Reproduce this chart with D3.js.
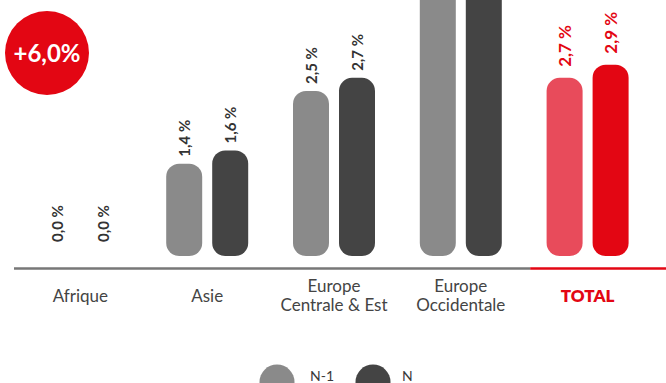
<!DOCTYPE html>
<html>
<head>
<meta charset="utf-8">
<script src="https://cdn.jsdelivr.net/npm/d3@7/dist/d3.min.js"></script>
<style>
  html, body { margin: 0; padding: 0; background: #fff; }
  svg { display: block; }
  text { font-family: Lato, "Open Sans", sans-serif; }
</style>
</head>
<body>
<svg id="chart" width="666" height="383"></svg>
<script>
// Regions (two-line labels split on "|")
const categories = ["Afrique", "Asie", "Europe|Centrale & Est", "Europe|Occidentale", "TOTAL"];
const series = ["N-1", "N"];
const valuesPrev = [0.0, 1.4, 2.5, 4.2, 2.7];   // N-1
const valuesCurr = [0.0, 1.6, 2.7, 4.4, 2.9];   // N
const growthLabel = "+6,0%";

const fmt = v => v.toFixed(1).replace(".", ",") + " %";

const W = 666, H = 383;
const base = 256;
const svg = d3.select("#chart");

const x0 = d3.scaleBand().domain(categories).range([17, 651]).padding(0);
const x1 = d3.scaleBand().domain(series).range([-41, 41]).paddingInner(0.2174).paddingOuter(0);
const y = d3.scaleLinear().domain([0, 3.88]).range([base, 0]);

const colors = {
  normal: { "N-1": "#8a8a8a", "N": "#444444" },
  total:  { "N-1": "#e84b5b", "N": "#e30613" }
};

const rows = categories.map((c, i) => ({
  cat: c,
  total: c === "TOTAL",
  bars: [
    { s: "N-1", v: valuesPrev[i] },
    { s: "N", v: valuesCurr[i] }
  ]
}));

const groups = svg.selectAll("g.cat").data(rows).join("g")
  .attr("class", "cat")
  .attr("transform", d => `translate(${x0(d.cat) + x0.bandwidth() / 2},0)`);

// rounded bars
groups.selectAll("rect.bar")
  .data(d => d.bars.filter(b => b.v > 0).map(b => ({ ...b, total: d.total })))
  .join("rect")
  .attr("class", "bar")
  .attr("x", b => x1(b.s))
  .attr("width", x1.bandwidth())
  .attr("y", b => y(b.v))
  .attr("height", b => base - y(b.v))
  .attr("rx", 13).attr("ry", 13)
  .attr("fill", b => (b.total ? colors.total : colors.normal)[b.s]);

// rotated value labels (only those that land inside the chart area)
const labelBottom = b => Math.min(y(b.v), base - 7) - (b.total ? 11 : 7);
groups.selectAll("text.val")
  .data(d => d.bars.map(b => ({ ...b, total: d.total })).filter(b => labelBottom(b) > 50))
  .join("text")
  .attr("class", "val")
  .attr("transform", b => `translate(${x1(b.s) + x1.bandwidth() / 2},${labelBottom(b)}) rotate(-90)`)
  .attr("text-anchor", "start")
  .attr("dominant-baseline", "central")
  .attr("font-size", b => b.total ? 17 : 15)
  .attr("font-weight", 700)
  .attr("fill", b => b.total ? "#e30613" : "#333333")
  .text(b => fmt(b.v));

// baseline: grey, then red under TOTAL
const totalStart = x0("TOTAL") + 6;
svg.append("line")
  .attr("x1", 14).attr("x2", totalStart)
  .attr("y1", 268.5).attr("y2", 268.5)
  .attr("stroke", "#777777").attr("stroke-width", 2.5);
svg.append("line")
  .attr("x1", totalStart).attr("x2", W)
  .attr("y1", 268.5).attr("y2", 268.5)
  .attr("stroke", "#e30613").attr("stroke-width", 2.5);

// category labels
groups.append("text")
  .attr("text-anchor", "middle")
  .attr("font-size", 17)
  .attr("font-weight", d => d.total ? 800 : 400)
  .attr("fill", d => d.total ? "#e30613" : "#444444")
  .each(function (d) {
    const lines = d.cat.split("|");
    const t = d3.select(this);
    const y0 = lines.length === 1 ? 302 : 292;
    lines.forEach((l, k) => {
      t.append("tspan").attr("x", 0).attr("y", y0 + k * 19).text(l);
    });
  });

// legend
const legend = svg.append("g");
const legendItems = [
  { s: "N-1", cx: 277, tx: 310 },
  { s: "N", cx: 373, tx: 402 }
];
legend.selectAll("circle").data(legendItems).join("circle")
  .attr("cx", d => d.cx).attr("cy", 382).attr("r", 17.5)
  .attr("fill", d => colors.normal[d.s]);
legend.selectAll("text").data(legendItems).join("text")
  .attr("x", d => d.tx).attr("y", 381)
  .attr("font-size", 14).attr("fill", "#3a3a3a")
  .text(d => d.s);

// growth badge
const badge = svg.append("g").attr("transform", "translate(47,53)");
badge.append("circle").attr("r", 42).attr("fill", "#e30613");
badge.append("text")
  .attr("text-anchor", "middle").attr("y", 9)
  .attr("font-size", 24).attr("font-weight", 700)
  .attr("fill", "#ffffff")
  .text(growthLabel);
</script>
</body>
</html>
